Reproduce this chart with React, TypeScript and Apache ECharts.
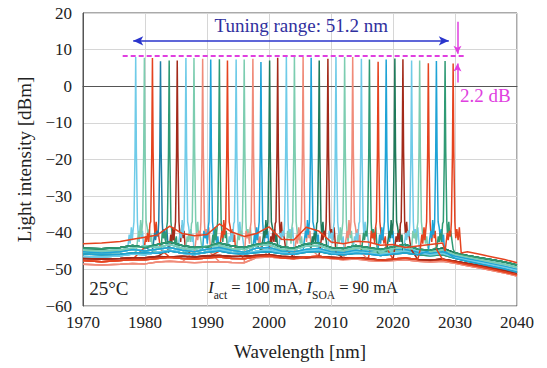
import { useEffect, useRef } from "react";
import * as echarts from "echarts";

// Lasing peak wavelengths [nm] and peak powers [dBm], one per spectrum
const PEAK_NM = [
  1978.5, 1979.9, 1981.2, 1982.5, 1983.9, 1985.2, 1986.6, 1987.9, 1989.3, 1990.6,
  1992.0, 1993.3, 1994.7, 1996.0, 1997.4, 1998.7, 2000.1, 2001.4, 2002.8, 2004.1,
  2005.5, 2006.8, 2008.1, 2009.5, 2010.8, 2012.2, 2013.5, 2014.9, 2016.2, 2017.6,
  2018.9, 2020.3, 2021.6, 2023.0, 2024.3, 2025.7, 2027.0, 2028.4, 2029.7,
];
const PEAK_DBM = [
  8.0, 7.8, 7.7, 6.8, 7.0, 7.0, 7.7, 7.7, 7.5, 7.3,
  7.4, 7.0, 7.3, 7.3, 7.5, 6.6, 7.0, 7.8, 8.4, 8.3,
  8.0, 7.8, 7.0, 7.5, 8.0, 8.0, 8.0, 7.5, 7.3, 6.7,
  7.3, 7.6, 7.4, 7.0, 7.0, 6.3, 6.9, 6.9, 6.2,
];

const PALETTE: Record<string, string> = {
  LB: "#6fcbe8",
  LG: "#7ccdb0",
  R: "#e5431f",
  TB: "#1f7fa6",
  G: "#2f9a74",
  DR: "#a32a1a",
  SAL: "#f08b79",
  B: "#1ea3d6",
  DG: "#1f7a5a",
};
const TRACE_COLOR = [
  "LB", "LG", "R", "TB", "G", "DR", "LB", "LG", "SAL", "B",
  "G", "R", "LB", "LG", "SAL", "B", "DG", "DR", "LB", "LG",
  "SAL", "B", "DG", "DR", "LB", "LG", "SAL", "LB", "G", "R",
  "B", "DG", "DR", "LB", "LG", "R", "B", "G", "R",
];

// Noise-floor profiles sampled on a common wavelength grid
const FLOOR_NM = [
  1970, 1973, 1976, 1978, 1980, 1982, 1984, 1986, 1988, 1990, 1992, 1994, 1996, 1998,
  2000, 2002, 2004, 2006, 2008, 2010, 2012, 2014, 2016, 2018, 2020, 2022, 2024, 2026,
  2028, 2030, 2032, 2034, 2036, 2038, 2040,
];
const FLOOR_HIGH = [
  -43, -42.8, -42.4, -41.8, -41.2, -40.6, -38.2, -40.2, -40.8, -40.5, -37.6, -39.8, -41, -40.2,
  -38.4, -41.8, -42, -38.5, -39.5, -42.5, -43, -42.3, -42.5, -43.4, -43.2, -44, -43.6, -43.2,
  -42.8, -44.6, -45.2, -45.9, -46.6, -47.3, -48.2,
];
const FLOOR_TEAL = [
  -44.2, -44.4, -44, -43.5, -44, -43.2, -42.5, -43.5, -44, -43.8, -42.8, -43.6, -44, -43.2,
  -42.6, -43.8, -44.2, -43, -42.8, -44, -44.3, -43.5, -44, -44.6, -43.8, -43.2, -44.5, -44.8,
  -44.2, -45.5, -46.2, -46.8, -47.4, -48, -48.8,
];
const FLOOR_BLUE = [
  -45.2, -45.5, -45.2, -44.6, -45, -44.5, -44, -44.8, -45.2, -44.5, -44, -44.8, -45.3, -44.2,
  -44, -45, -45.2, -44.6, -44.3, -45.2, -45.4, -44.8, -45.1, -45.5, -45, -44.6, -45.3, -45.6,
  -45.2, -46.4, -47.1, -47.8, -48.5, -49.2, -50,
];
const FLOOR_MID = [
  -45.8, -46, -45.9, -45.5, -45.4, -45.6, -45, -45.5, -45.8, -45.3, -45, -45.6, -45.8, -45.4,
  -45.2, -45.7, -45.9, -45.3, -45.1, -45.8, -46, -45.6, -45.8, -46.2, -45.8, -45.5, -46, -46.3,
  -46, -47, -47.8, -48.5, -49.2, -49.9, -50.8,
];
const FLOOR_DARK = [
  -47, -47.2, -47, -46.8, -46.8, -46.5, -46.6, -46.4, -46.6, -46.3, -46.2, -46.5, -46.4, -46.2,
  -46, -46.4, -46.6, -46.8, -46.5, -46.7, -46.9, -46.8, -47, -47.5, -47.3, -47, -47.3, -47.5,
  -47.2, -47.8, -48.4, -49, -49.6, -50.3, -51,
];
const FLOOR_LOW = [
  -48.6, -48.8, -48.6, -48.4, -48.5, -48, -47.8, -48, -48.2, -48, -47.9, -48.1, -48.2, -46.8,
  -46.6, -46.9, -47.1, -46.8, -46.7, -47, -47.4, -47.2, -47.6, -47.8, -47.6, -47.4, -47.8, -48,
  -47.8, -48.3, -49, -49.6, -50.3, -51, -51.8,
];
const FLOOR_MID2 = [
  -46.5, -46.6, -46.3, -45.8, -46, -45.3, -44.8, -45.6, -46, -45.2, -44.6, -45.4, -45.9, -45,
  -44.7, -45.5, -45.8, -44.9, -44.7, -45.6, -45.9, -45.2, -45.5, -46, -45.5, -45, -45.8, -46.1,
  -45.7, -46.8, -47.5, -48.1, -48.8, -49.5, -50.3,
];
const FLOOR_LOW2 = [
  -47.6, -47.9, -47.6, -47.3, -47.4, -47, -46.7, -47, -47.2, -46.9, -46.6, -47, -47.1, -46.5,
  -46.3, -46.8, -47, -46.6, -46.4, -46.9, -47.1, -46.8, -47.2, -47.5, -47.2, -46.9, -47.3, -47.6,
  -47.3, -48, -48.7, -49.3, -50, -50.7, -51.5,
];
const FLOOR_UPPER = [
  -44.8, -45, -44.7, -44.2, -43.6, -44, -43.2, -44.2, -44.5, -43.6, -43.4, -44.3, -44.6, -43.5,
  -43.2, -44.5, -44.6, -43.6, -43.5, -44.6, -44.9, -44.1, -44.5, -45, -44.4, -43.9, -44.9, -45.2,
  -44.7, -45.9, -46.6, -47.3, -48, -48.6, -49.4,
];
const FLOORS = [
  FLOOR_HIGH, FLOOR_TEAL, FLOOR_BLUE, FLOOR_MID, FLOOR_DARK,
  FLOOR_LOW, FLOOR_MID2, FLOOR_LOW2, FLOOR_UPPER,
];
const TRACE_FLOOR = [
  2, 6, 7, 1, 8, 4, 3, 6, 5, 2,
  1, 7, 8, 3, 5, 6, 1, 4, 2, 8,
  7, 3, 1, 4, 6, 2, 5, 8, 3, 7,
  2, 1, 4, 6, 8, 7, 3, 1, 0,
];

// Side-mode skirts around each lasing line: [offset nm, dBm]
const SKIRT_A = [[-1.3, -44.5], [-1.05, -40.5], [-0.9, -43], [-0.7, -38.5], [-0.55, -42], [-0.4, -39], [0.4, -40], [0.55, -42.5], [0.75, -38], [0.95, -41.5], [1.1, -39.5], [1.3, -44.5]];
const SKIRT_B = [[-1.3, -45], [-1.1, -42], [-0.9, -39.5], [-0.75, -41.5], [-0.6, -36.5], [-0.45, -40.5], [0.45, -38.5], [0.6, -41], [0.8, -39], [1.0, -42.5], [1.15, -40.5], [1.3, -45]];
const SKIRT_C = [[-1.3, -44], [-1.1, -41], [-0.95, -42.5], [-0.8, -40], [-0.6, -42.5], [-0.4, -37.5], [0.4, -40.5], [0.6, -37], [0.75, -41], [0.9, -39.5], [1.1, -42], [1.3, -44.5]];
const SKIRT_D = [[-1.3, -45], [-1.15, -43], [-0.95, -40], [-0.8, -42], [-0.6, -39.5], [-0.42, -41], [0.42, -41.5], [0.6, -39], [0.8, -42], [1.0, -38.5], [1.15, -42], [1.3, -45.5]];
const SKIRT_E = [[-1.3, -44.5], [-1.1, -39.5], [-0.9, -41.5], [-0.7, -40], [-0.55, -43], [-0.4, -38.5], [0.4, -39], [0.58, -42], [0.75, -40.5], [0.95, -43], [1.15, -41], [1.3, -44]];
const SKIRTS = [SKIRT_A, SKIRT_B, SKIRT_C, SKIRT_D, SKIRT_E];
// Lasing line flanks: [offset nm, dBm]
const LINE_FLANKS = [[-0.28, -37], [-0.11, -18], [0.11, -18], [0.28, -37]];

const SERIF = '"Liberation Serif", "Times New Roman", serif';

function buildTrace(i: number): number[][] {
  const peak = PEAK_NM[i];
  const floor = FLOORS[TRACE_FLOOR[i]];
  const pts: number[][] = [];
  FLOOR_NM.forEach((nm, k) => {
    if (Math.abs(nm - peak) > 1.35) pts.push([nm, floor[k]]);
  });
  SKIRTS[i % SKIRTS.length].forEach(([d, v]) => pts.push([peak + d, v]));
  LINE_FLANKS.forEach(([d, v]) => pts.push([peak + d, v]));
  pts.push([peak, PEAK_DBM[i]]);
  pts.sort((a, b) => a[0] - b[0]);
  return pts;
}

export default function App() {
  const ref = useRef<HTMLDivElement>(null);

  useEffect(() => {
    if (!ref.current) return;
    const chart = echarts.init(ref.current, undefined, { renderer: "svg" });

    const series: any[] = PEAK_NM.map((_, i) => {
      const color = PALETTE[TRACE_COLOR[i]];
      return {
        type: "line",
        data: buildTrace(i),
        showSymbol: false,
        symbol: "none",
        silent: true,
        lineStyle: { color, width: 1.5 },
        itemStyle: { color },
      };
    });

    const blue = "#2a35cc";
    const magenta = "#e03fe0";
    series.push({
      type: "line",
      data: [],
      silent: true,
      z: 10,
      markLine: {
        silent: true,
        animation: false,
        label: { show: false },
        emphasis: { disabled: true },
        data: [
          [
            { coord: [1978.1, 12.4], symbol: "arrow", symbolSize: [7, 10], lineStyle: { color: blue, width: 1.6, type: "solid" } },
            { coord: [2029.0, 12.4], symbol: "arrow", symbolSize: [7, 10] },
          ],
          [
            { coord: [1976.4, 8.4], symbol: "none", lineStyle: { color: magenta, width: 2, type: [5, 3] } },
            { coord: [2031.8, 8.4], symbol: "none" },
          ],
          [
            { coord: [2030.4, 17.6], symbol: "none", lineStyle: { color: magenta, width: 1.5, type: "solid" } },
            { coord: [2030.4, 8.9], symbol: "arrow", symbolSize: [6, 8] },
          ],
          [
            { coord: [2030.4, 1.0], symbol: "none", lineStyle: { color: magenta, width: 1.5, type: "solid" } },
            { coord: [2030.4, 6.2], symbol: "arrow", symbolSize: [6, 8] },
          ],
        ],
      },
    });

    chart.setOption({
      animation: false,
      backgroundColor: "#ffffff",
      grid: {
        left: 83,
        right: 30,
        top: 13,
        bottom: 62,
        show: true,
        borderColor: "#555",
        borderWidth: 1,
      },
      xAxis: {
        type: "value",
        min: 1970,
        max: 2040,
        interval: 10,
        name: "Wavelength [nm]",
        nameLocation: "middle",
        nameGap: 36,
        nameTextStyle: { fontFamily: SERIF, fontSize: 19, color: "#222" },
        axisLine: { show: true, lineStyle: { color: "#555" } },
        axisTick: { show: false },
        axisLabel: {
          fontFamily: SERIF,
          fontSize: 17,
          color: "#222",
          margin: 8,
          formatter: (v: number) => String(v),
        },
        splitLine: { show: true, lineStyle: { color: "#d6d6d6", width: 1 } },
      },
      yAxis: {
        type: "value",
        min: -60,
        max: 20,
        interval: 10,
        name: "Light intensity [dBm]",
        nameLocation: "middle",
        nameGap: 49,
        nameRotate: 90,
        nameTextStyle: { fontFamily: SERIF, fontSize: 19, color: "#222" },
        axisLine: { show: true, lineStyle: { color: "#555" } },
        axisTick: { show: false },
        axisLabel: {
          fontFamily: SERIF,
          fontSize: 17,
          color: "#222",
          margin: 11,
          formatter: (v: number) => (v < 0 ? "\u2212" + Math.abs(v) : String(v)),
        },
        splitLine: { show: true, lineStyle: { color: "#d6d6d6", width: 1 } },
      },
      series,
    });

    const at = (nm: number, dbm: number) =>
      chart.convertToPixel({ gridIndex: 0 }, [nm, dbm]) as number[];

    const tuning = at(2005.2, 16.6);
    const db = at(2030.8, -2.4);
    const temp = at(1971.0, -55.3);
    const cond = at(1990.2, -55.3);

    chart.setOption({
      graphic: [
        {
          type: "text",
          x: tuning[0],
          y: tuning[1],
          silent: true,
          style: {
            text: "Tuning range: 51.2 nm",
            fontFamily: SERIF,
            fontSize: 19,
            fill: "#30309e",
            align: "center",
            textAlign: "center",
            verticalAlign: "middle",
            textVerticalAlign: "middle",
          },
        },
        {
          type: "text",
          x: db[0],
          y: db[1],
          silent: true,
          style: {
            text: "2.2 dB",
            fontFamily: SERIF,
            fontSize: 19,
            fill: magenta,
            align: "left",
            textAlign: "left",
            verticalAlign: "middle",
            textVerticalAlign: "middle",
          },
        },
        {
          type: "text",
          x: temp[0],
          y: temp[1],
          silent: true,
          style: {
            text: "25°C",
            fontFamily: SERIF,
            fontSize: 19,
            fill: "#222",
            align: "left",
            textAlign: "left",
            verticalAlign: "middle",
            textVerticalAlign: "middle",
          },
        },
        {
          type: "text",
          x: cond[0],
          y: cond[1] - 10,
          silent: true,
          style: {
            text: "{i|I}{s|act}{n| = 100 mA, }{i|I}{s|SOA}{n| = 90 mA}",
            fontFamily: SERIF,
            fontSize: 16.5,
            fill: "#222",
            align: "left",
            textAlign: "left",
            verticalAlign: "top",
            textVerticalAlign: "top",
            rich: {
              i: { fontFamily: SERIF, fontSize: 16.5, fontStyle: "italic", lineHeight: 20, verticalAlign: "top", fill: "#222", color: "#222" },
              n: { fontFamily: SERIF, fontSize: 16.5, lineHeight: 20, verticalAlign: "top", fill: "#222", color: "#222" },
              s: { fontFamily: SERIF, fontSize: 11.5, lineHeight: 22, verticalAlign: "bottom", fill: "#222", color: "#222" },
            },
          },
        },
      ],
    });

    return () => chart.dispose();
  }, []);

  return (
    <div
      ref={ref}
      style={{ position: "absolute", left: 0, top: 0, width: 547, height: 368 }}
    />
  );
}
